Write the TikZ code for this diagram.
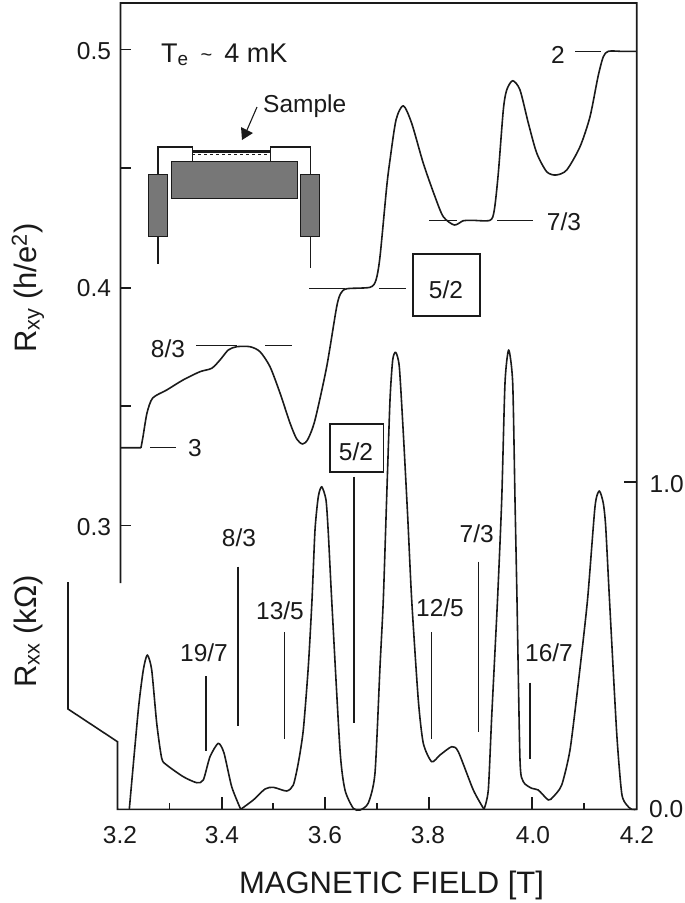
\documentclass[tikz,border=0pt]{standalone}
\usepackage{fontspec}
\setmainfont{Liberation Sans}
\definecolor{blockgray}{HTML}{777777}
\definecolor{inkblack}{HTML}{1A1A1A}
\tikzset{
  trace/.style={inkblack, line width=1.6pt, line join=round},
  axisline/.style={inkblack, line width=1.6pt},
  marker/.style={inkblack, line width=1.4pt},
  wire/.style={inkblack, line width=1.1pt},
  block/.style={draw=inkblack, fill=blockgray, line width=1.3pt},
  lab/.style={inner sep=0pt, text=inkblack, font=\fontsize{24.5}{26}\selectfont},
  bigtext/.style={inner sep=0pt, text=inkblack, font=\fontsize{31}{33}\selectfont},
  boxlab/.style={lab, draw=inkblack, line width=1.1pt},
}
\begin{document}
\begin{tikzpicture}[x=1pt, y=-1pt]
\useasboundingbox (0,0) rectangle (685,903);

% frame and stub
\draw[axisline] (120.5,583) -- (120.5,3) -- (636.7,3) -- (636.7,809.3) -- (117.5,809.3)
  -- (117.5,741.7) -- (68,709) -- (68,582);

% ticks
\foreach \ypos in {49.5,168,288,406,525.5}
  \draw[axisline] (120.5,\ypos) -- (131,\ypos);
\draw[axisline] (624,482) -- (636.7,482);
\foreach \xpos in {169.5,273,377,584}
  \draw[axisline] (\xpos,809.3) -- (\xpos,803);
\foreach \xpos in {222,325,429,532}
  \draw[axisline] (\xpos,809.3) -- (\xpos,797);

% tick labels
\node[lab] (yA) at (94,51.5) {0.5};
\node[lab] (yB) at (94,288) {0.4};
\node[lab] (yC) at (94,527) {0.3};
\node[lab, anchor=west] (rA) at (649.5,484) {1.0};
\node[lab, anchor=west] (rB) at (649,809) {0.0};
\node[lab] (xA) at (120,835) {3.2};
\node[lab] (xB) at (222,835) {3.4};
\node[lab] (xC) at (325,835) {3.6};
\node[lab] (xD) at (428,835) {3.8};
\node[lab] (xE) at (533,835) {4.0};
\node[lab] (xF) at (637,835) {4.2};

% axis titles
\node[bigtext] (xtitle) at (391.5,885) {MAGNETIC FIELD [T]};
\node[bigtext, rotate=90, anchor=base west] (rxy) at (36,353) {R\textsubscript{xy} (h/e\textsuperscript{2})};
\node[bigtext, rotate=90, anchor=base west] (rxx) at (36,688) {R\textsubscript{xx} (kΩ)};
\node[inner sep=0pt, text=inkblack, anchor=base west, font=\fontsize{27}{29}\selectfont] (temp) at (161,62)
  {T\textsubscript{e} \,\raisebox{1pt}{\fontsize{20}{20}\selectfont\char`~}\, 4 mK};

% Rxy trace
\draw[trace] (120.5,447.7) -- (141,447.7) plot[smooth, tension=0.45] coordinates {
  (141,447.7) (143,436.7) (147,413) (152.7,398) (166.7,390) (183,380) (200,371.7)
  (211.7,368.3) (220,360) (228.3,350) (236.7,346.7) (250,346.7) (260,351.7)
  (270,366.7) (280,393) (290,423) (296.7,439) (302.7,444) (308,439) (315,420)
  (326.7,366.7) (336.7,306.7) (341,293) (347,288.7) (370,287.3) (376,280)
  (380,256.7) (386.7,186.7) (390,160) (396,120) (403.3,105.7) (411.7,123.3)
  (423.3,163.3) (435,196.7) (443.3,216.7) (454.3,225) (463.3,220.7) (472,220.3)
  (490,220.3) (494.3,210) (498.3,173.3) (503.3,110) (506.7,90) (512.7,80.7)
  (520,90) (528.3,123) (536.7,153) (546.7,171.7) (556,175) (566.7,170) (580,146.7)
  (590,116.7) (598,76.7) (603.3,56.7) (608.3,51.3) (620,51.3)} -- (636.7,51.3);

% Rxx trace
\draw[trace] plot[smooth, tension=0.4] coordinates {
  (129.3,809.3) (138.3,710) (143.3,670) (147.3,655) (151.7,670) (156.7,723)
  (161.7,758.3) (166.7,765) (183.3,776.7) (196.7,782.7) (203.3,780) (210,756.7)
  (218.3,743.3) (224,753) (231.7,786.7) (240.7,809.3)};
\draw[trace] plot[smooth, tension=0.4] coordinates {
  (240.7,809.3) (253.3,800) (265,789) (273.3,787.3) (286.7,791) (293.3,785)
  (298.3,763) (303.3,730) (308.3,666.7) (312,600) (315,530) (318.3,496.7)
  (321.7,486.7) (326,500) (328.3,533) (331.7,600) (340,750) (345,790) (353.3,808.3)
  (360,810) (368.3,803) (375,773) (380,666.7) (383.3,600) (386.7,496.7) (390,400)
  (392.7,360) (395.7,352.3) (399.3,366.7) (403.3,433) (407.7,516.7) (411.7,600)
  (418.3,700) (423.3,743.3) (431.7,761.7) (440,755) (451.7,746.7) (458.3,751.7)
  (473.3,790) (484,809.3)};
\draw[trace] plot[smooth, tension=0.4] coordinates {
  (484,809.3) (488.3,790) (491.7,716.7) (497.5,600) (501.7,500) (505,383) (508.7,350)
  (512.7,383) (515,500) (517,600) (520,760) (523.3,781.7) (531.7,788.3) (538.3,790)
  (548.3,800) (553.3,796.7) (561.7,785) (570,750) (578.3,683) (587.5,600) (595,506.7)
  (599.3,491) (603.3,503.3) (605.7,526.7) (609.5,600) (616.7,733) (621.7,793.3)
  (626.7,805) (631.7,809.3) (636.7,809.3)};

% Rxy markers
\draw[marker] (575,51.5) -- (600.7,51.5);
\draw[marker] (429,220.3) -- (456.7,220.3);
\draw[marker] (497,220.3) -- (533,220.3);
\draw[marker] (309,288.3) -- (345,288.3);
\draw[marker] (379,288.3) -- (406,288.3);
\draw[marker] (196,345.7) -- (237,345.7);
\draw[marker] (265,345.7) -- (292,345.7);
\draw[marker] (150,447.7) -- (176,447.7);
\node[lab] (nuB) at (558,55) {2};
\node[lab] (nuC) at (564,221.5) {7/3};
\node[boxlab, minimum width=67pt, minimum height=62pt] (nuD) at (446.5,285) {};
\node[lab] (nuDtext) at (446,289.5) {5/2};
\node[lab] (nuE) at (168,349) {8/3};
\node[lab] (nuF) at (195,448) {3};

% Rxx markers
\draw[marker] (354,476.7) -- (354,723);
\draw[marker] (238,566.7) -- (238,726);
\draw[marker] (284.3,632) -- (284.3,738.7);
\draw[marker] (206,676) -- (206,750.7);
\draw[marker] (431.3,632) -- (431.3,738.7);
\draw[marker] (478.3,561.7) -- (478.3,732);
\draw[marker] (530,682.7) -- (530,758.7);
\node[boxlab, minimum width=53.7pt, minimum height=48pt] (minD) at (356.8,448) {};
\node[lab] (minDtext) at (356,452) {5/2};
\node[lab] (minE) at (239,538) {8/3};
\node[lab] (minG) at (280,611) {13/5};
\node[lab] (minH) at (204,653) {19/7};
\node[lab] (minI) at (440,608) {12/5};
\node[lab] (minC) at (476.7,534) {7/3};
\node[lab] (minJ) at (549,653) {16/7};

% inset
\draw[block] (171.7,161.3) rectangle (297.3,198.3);
\draw[block] (148.3,174.7) rectangle (167.7,236.7);
\draw[block] (300.3,174.7) rectangle (319.7,236.7);
\draw[wire] (158,174.7) -- (158,147) -- (192.3,147) -- (192.3,161.3);
\draw[wire] (310.3,174.7) -- (310.3,147) -- (270.3,147) -- (270.3,161.3);
\draw[wire] (158,236.7) -- (158,264.3);
\draw[wire] (310.3,236.7) -- (310.3,267.7);
\draw[inkblack, line width=2.4pt] (192.3,151.3) -- (270.3,151.3);
\draw[inkblack, line width=1.3pt, dashed] (192.3,154.5) -- (270.3,154.5);
\node[lab, anchor=base west] (sample) at (263,112.5) {Sample};
\coordinate (arrowtail) at (257,107);
\coordinate (arrowhead) at (242,140);
\fill[inkblack] (arrowhead) -- (241,127) -- (253,133) -- cycle;
\draw[wire] (arrowtail) -- (247,130);
\end{tikzpicture}
\end{document}
